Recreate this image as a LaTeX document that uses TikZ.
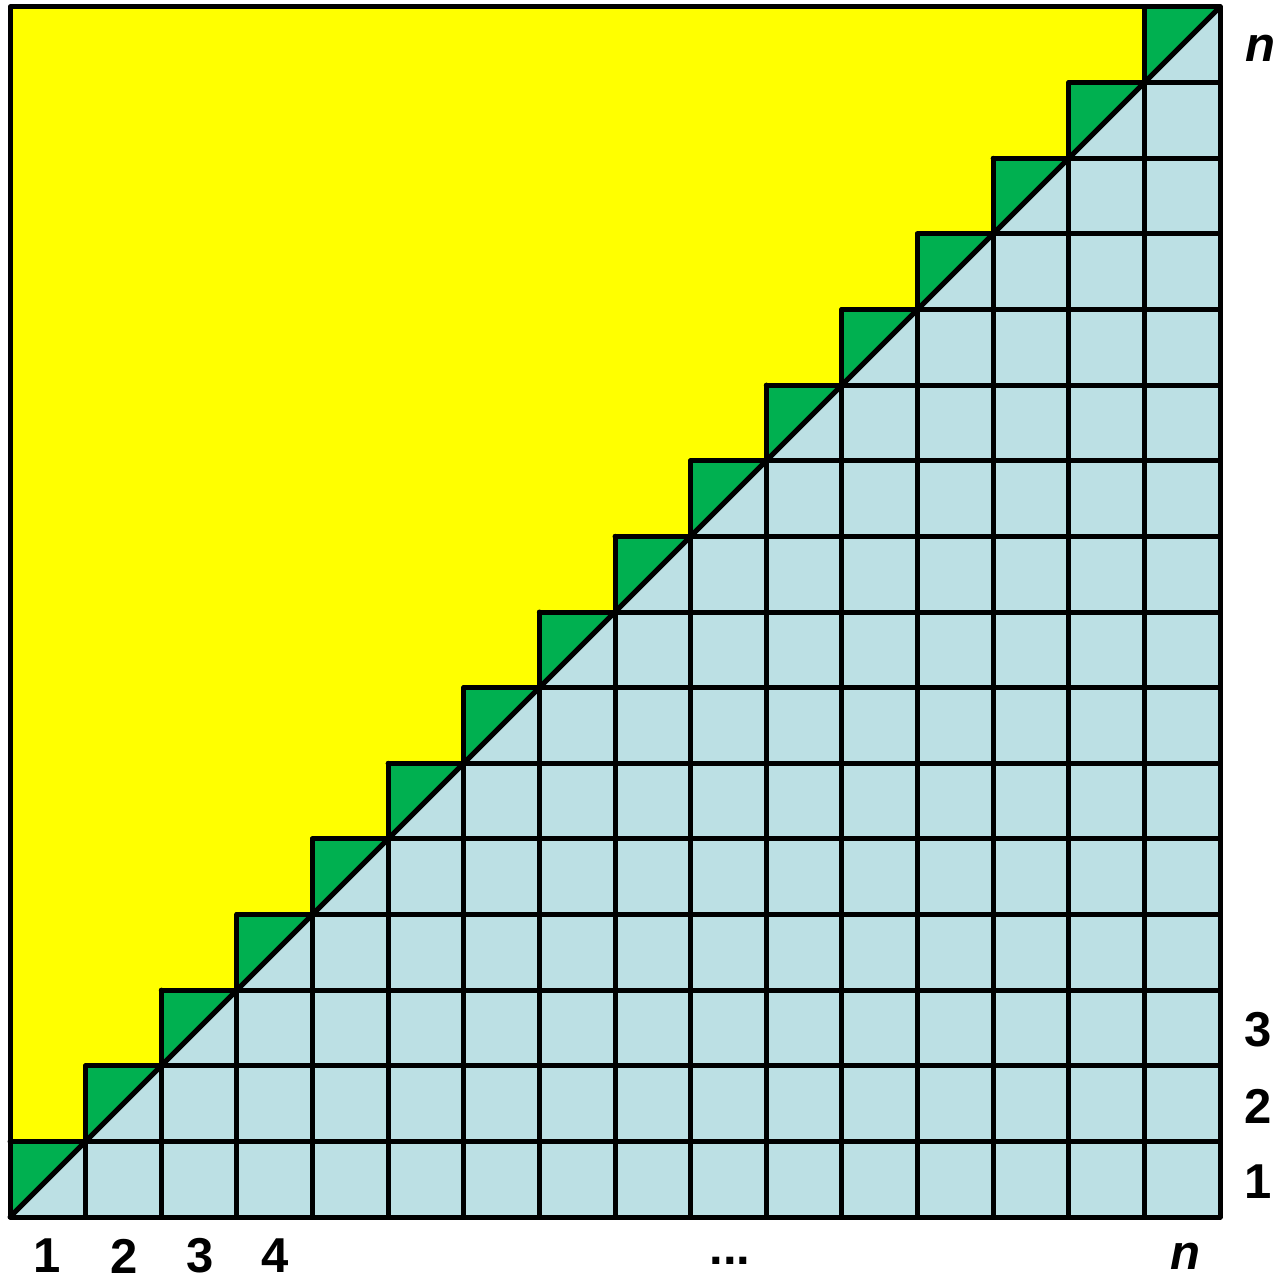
\documentclass[tikz,border=0pt]{standalone}
\usepackage{fontspec}
\setmainfont{Liberation Sans}
\definecolor{myyellow}{RGB}{255,255,0}
\definecolor{mygreen}{RGB}{0,176,80}
\definecolor{myblue}{RGB}{188,224,228}
\tikzset{
  gridline/.style={line width=5pt, line cap=round, line join=round},
  lab/.style={font=\bfseries\fontsize{49}{49}\selectfont, inner sep=0pt},
  ilab/.style={font=\bfseries\itshape\fontsize{49}{49}\selectfont, inner sep=0pt}
}
\begin{document}
\begin{tikzpicture}[x=1pt,y=-1pt]
\useasboundingbox (0,0) rectangle (1281,1279);
\def\cs{75.625}
% backgrounds
\fill[myyellow] (10,7) rectangle (1220,1217);
\fill[myblue] (10,1217) -- (1220,7) -- (1220,1217) -- cycle;
\foreach \k in {1,...,16}{
  \pgfmathsetmacro{\xa}{10+(\k-1)*\cs}
  \pgfmathsetmacro{\xb}{10+\k*\cs}
  \pgfmathsetmacro{\ya}{1217-(\k-1)*\cs}
  \pgfmathsetmacro{\yb}{1217-\k*\cs}
  \fill[mygreen] (\xa,\ya) -- (\xa,\yb) -- (\xb,\yb) -- cycle;
}
% horizontal lines
\foreach \k in {1,...,16}{
  \pgfmathsetmacro{\xa}{10+(\k-1)*\cs}
  \pgfmathsetmacro{\yb}{1217-\k*\cs}
  \draw[gridline] (\xa,\yb) -- (1220,\yb);
}
% vertical lines
\foreach \k in {1,...,15}{
  \pgfmathsetmacro{\xb}{10+\k*\cs}
  \pgfmathsetmacro{\yb}{1217-(\k+1)*\cs}
  \draw[gridline] (\xb,1217) -- (\xb,\yb);
}
\draw[gridline] (10,1217) -- (1220,7);
\draw[gridline] (10,7) rectangle (1220,1217);
% labels
\node[lab] (b1) at (47,1256) {1};
\node[lab] (b2) at (124,1256) {2};
\node[lab] (b3) at (200,1256) {3};
\node[lab] (b4) at (275,1256) {4};
\node[lab] (bd) at (730,1261) {...};
\node[ilab] (bn) at (1185,1256) {n};
\node[lab] (r1) at (1258,1182) {1};
\node[lab] (r2) at (1258,1106) {2};
\node[lab] (r3) at (1258,1030) {3};
\node[ilab] (rn) at (1260,48) {n};
\end{tikzpicture}
\end{document}
